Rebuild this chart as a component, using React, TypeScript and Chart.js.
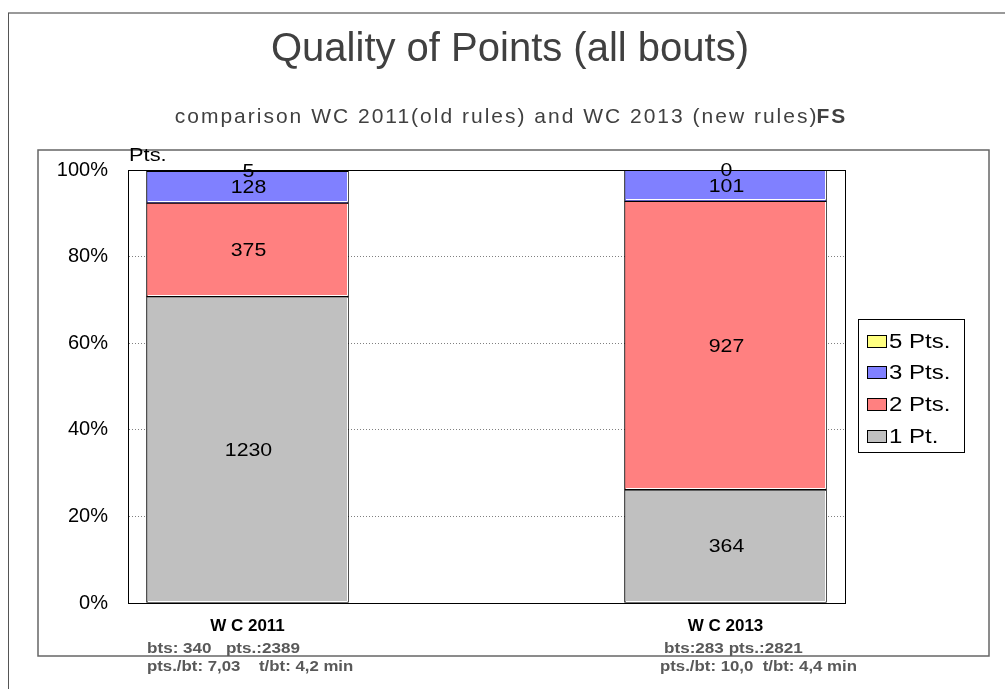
import React, { useEffect, useRef } from "react";
import { Chart, registerables } from "chart.js";

Chart.register(...registerables);

const categories = ["W C 2011", "W C 2013"];
const statsLine1 = ["bts: 340   pts.:2389", "bts:283 pts.:2821"];
const statsLine2 = ["pts./bt: 7,03    t/bt: 4,2 min", "pts./bt: 10,0  t/bt: 4,4 min"];
const onePt = [1230, 364];
const twoPts = [375, 927];
const threePts = [128, 101];
const fivePts = [5, 0];
const seriesNames = ["1 Pt.", "2 Pts.", "3 Pts.", "5 Pts."];
const seriesColors = ["#C0C0C0", "#FF8080", "#8080FF", "#FFFF80"];
const yTickValues = [0, 20, 40, 60, 80, 100];

const FONT = "'Liberation Sans', Arial, sans-serif";

function drawStretched(ctx: any, text: string, x: number, y: number, sx: number, align: "left" | "center") {
  ctx.save();
  ctx.translate(x, y);
  ctx.scale(sx, 1);
  ctx.textAlign = align;
  ctx.fillText(text, 0, 0);
  ctx.restore();
}

export default function App() {
  const ref = useRef<HTMLCanvasElement>(null);
  useEffect(() => {
    const series = [onePt, twoPts, threePts, fivePts];
    const totals = categories.map((_, i) => series.reduce((s, arr) => s + arr[i], 0));
    const datasets = series.map((arr, k) => ({
      label: seriesNames[k],
      data: arr.map((v, i) => ({ x: i, y: (v / totals[i]) * 100, raw: v })),
      backgroundColor: seriesColors[k],
      borderColor: "#000000",
      borderWidth: 1,
      borderSkipped: false as const,
      barThickness: 202,
      yAxisID: "y",
    }));

    const setLS = (ctx: any, v: string) => {
      try {
        ctx.letterSpacing = v;
      } catch (e) {}
    };

    const decorPlugin = {
      id: "decor",
      beforeDraw(chart: any) {
        const ctx = chart.ctx;
        ctx.save();
        ctx.fillStyle = "#ffffff";
        ctx.fillRect(0, 0, chart.width, chart.height);
        // outer frame
        ctx.strokeStyle = "#999999";
        ctx.lineWidth = 2;
        ctx.beginPath();
        ctx.moveTo(8, 13);
        ctx.lineTo(chart.width, 13);
        ctx.stroke();
        ctx.strokeStyle = "#555555";
        ctx.lineWidth = 1;
        ctx.beginPath();
        ctx.moveTo(8.5, 13);
        ctx.lineTo(8.5, chart.height);
        ctx.stroke();
        // inner frame
        ctx.strokeStyle = "#666666";
        ctx.lineWidth = 1.5;
        ctx.strokeRect(38, 150, 951, 506);
        // subtitle
        const sub = "comparison WC 2011(old rules) and WC 2013 (new rules)";
        setLS(ctx, "2px");
        ctx.font = `21px ${FONT}`;
        const w1 = ctx.measureText(sub).width;
        ctx.font = `bold 21px ${FONT}`;
        const w2 = ctx.measureText("FS").width;
        const start = 512 - (w1 + w2) / 2;
        ctx.textBaseline = "middle";
        ctx.textAlign = "left";
        ctx.fillStyle = "#404040";
        ctx.font = `21px ${FONT}`;
        ctx.fillText(sub, start, 117);
        ctx.font = `bold 21px ${FONT}`;
        ctx.fillText("FS", start + w1 - 2, 117);
        setLS(ctx, "0px");
        ctx.restore();
      },
      afterDraw(chart: any) {
        const ctx = chart.ctx;
        const ca = chart.chartArea;
        ctx.save();
        // white highlight lines inside bar segments
        ctx.strokeStyle = "#ffffff";
        ctx.lineWidth = 1;
        chart.data.datasets.forEach((ds: any, di: number) => {
          const meta = chart.getDatasetMeta(di);
          meta.data.forEach((el: any) => {
            const h = Math.abs(el.base - el.y);
            if (h < 4) return;
            const l = el.x - el.width / 2;
            const r = el.x + el.width / 2;
            const top = Math.min(el.y, el.base);
            const bot = Math.max(el.y, el.base);
            ctx.beginPath();
            ctx.moveTo(Math.round(r) - 1.5, Math.round(top) + 1);
            ctx.lineTo(Math.round(r) - 1.5, Math.round(bot) - 1.5);
            ctx.lineTo(Math.round(l) + 1, Math.round(bot) - 1.5);
            ctx.stroke();
          });
        });
        // plot frame
        ctx.strokeStyle = "#000000";
        ctx.lineWidth = 1;
        ctx.strokeRect(Math.round(ca.left) + 0.5, Math.round(ca.top) + 0.5, Math.round(ca.right - ca.left), Math.round(ca.bottom - ca.top));
        // value labels
        ctx.font = `19px ${FONT}`;
        ctx.fillStyle = "#000000";
        ctx.textBaseline = "middle";
        chart.data.datasets.forEach((ds: any, di: number) => {
          const meta = chart.getDatasetMeta(di);
          meta.data.forEach((el: any, i: number) => {
            const y = (el.y + el.base) / 2;
            drawStretched(ctx, String(ds.data[i].raw), el.x + 1, y + 1, 1.12, "center");
          });
        });
        // "Pts." label
        ctx.textBaseline = "alphabetic";
        drawStretched(ctx, "Pts.", ca.left + 1, 161, 1.15, "left");
        // stats lines under x labels
        const xs = chart.scales.x;
        ctx.font = `bold 15px ${FONT}`;
        ctx.fillStyle = "#595959";
        ctx.textBaseline = "middle";
        const off1 = [-100.5, -61.5];
        const off2 = [-100.5, -65.5];
        categories.forEach((_, i) => {
          const cx = xs.getPixelForValue(i);
          drawStretched(ctx, statsLine1[i], cx + off1[i], 649, 1.14, "left");
          drawStretched(ctx, statsLine2[i], cx + off2[i], 667, 1.12, "left");
        });
        // legend
        const lx = ca.right + 13;
        const ly = 319;
        ctx.fillStyle = "#ffffff";
        ctx.fillRect(lx, ly, 106, 133);
        ctx.strokeStyle = "#000000";
        ctx.strokeRect(lx + 0.5, ly + 0.5, 106, 133);
        const itemsY = [341, 372, 404, 436];
        ctx.font = `20px ${FONT}`;
        for (let j = 0; j < 4; j++) {
          const k = 3 - j;
          const iy = itemsY[j];
          ctx.fillStyle = seriesColors[k];
          ctx.fillRect(lx + 9, iy - 6, 19, 12);
          ctx.strokeStyle = "#000000";
          ctx.strokeRect(lx + 9.5, iy - 5.5, 19, 12);
          ctx.fillStyle = "#000000";
          ctx.textBaseline = "middle";
          drawStretched(ctx, seriesNames[k], lx + 31, iy + 1, 1.2, "left");
        }
        ctx.restore();
      },
    };

    const chart = new Chart(ref.current!, {
      type: "bar",
      data: { datasets } as any,
      options: {
        animation: false,
        responsive: false,
        layout: { padding: { left: 15, right: 0, top: 0, bottom: 0 } },
        plugins: {
          legend: { display: false },
          tooltip: { enabled: false },
          title: {
            display: true,
            text: "Quality of Points (all bouts)",
            color: "#404040",
            font: { family: FONT, size: 40, weight: "normal" },
            padding: { top: 26, bottom: 96 },
          },
        },
        scales: {
          x: {
            type: "linear",
            min: -0.25,
            max: 1.25,
            offset: false,
            stacked: true,
            grid: { display: false, drawTicks: false },
            border: { display: true, color: "#000000" },
            afterBuildTicks: (scale: any) => {
              scale.ticks = categories.map((_, i) => ({ value: i }));
            },
            afterFit: (scale: any) => {
              scale.height = 86;
            },
            ticks: {
              autoSkip: false,
              maxRotation: 0,
              padding: 13,
              color: "#000000",
              font: { family: FONT, size: 17, weight: "bold" },
              callback: (v: any) => categories[v] ?? "",
            },
          },
          y: {
            stacked: true,
            min: 0,
            max: 100,
            position: "left",
            afterBuildTicks: (scale: any) => {
              scale.ticks = yTickValues.map((v) => ({ value: v }));
            },
            afterFit: (scale: any) => {
              scale.width = 113;
            },
            grid: {
              drawTicks: false,
              color: "#808080",
              lineWidth: 1,
            },
            border: { display: true, color: "#000000", dash: [1, 2] },
            ticks: {
              padding: 20,
              color: "#000000",
              font: { family: FONT, size: 20 },
              callback: (v: any) => v + "%",
            },
          },
          y2: {
            position: "right",
            display: true,
            min: 0,
            max: 100,
            grid: { display: false, drawTicks: false },
            border: { display: false },
            ticks: { display: false },
            afterFit: (scale: any) => {
              scale.width = 160;
            },
          },
        },
      } as any,
      plugins: [decorPlugin],
    });
    return () => chart.destroy();
  }, []);

  return (
    <div style={{ position: "absolute", left: 0, top: 0, width: 1005, height: 689 }}>
      <canvas ref={ref} width={1005} height={689} style={{ display: "block" }} />
    </div>
  );
}
